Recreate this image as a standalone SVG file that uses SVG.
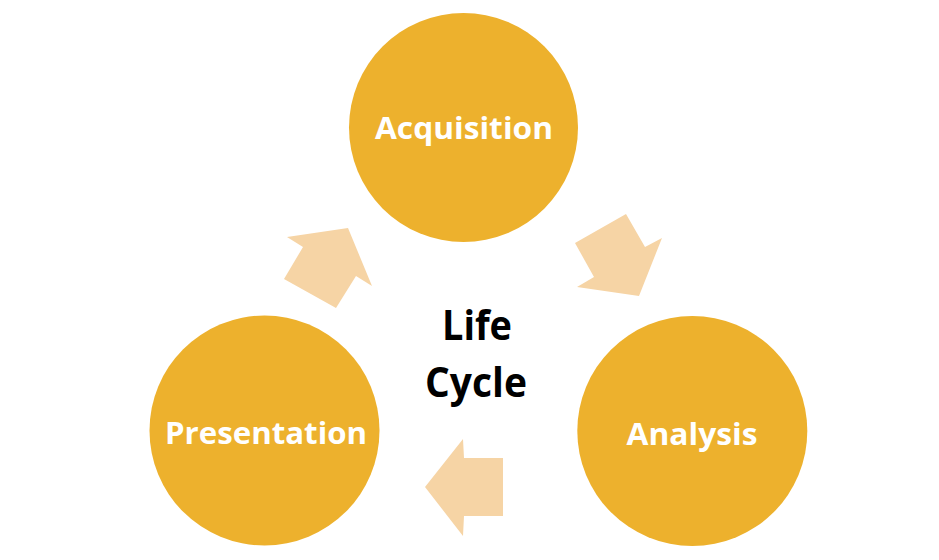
<svg xmlns="http://www.w3.org/2000/svg" width="939" height="560" viewBox="0 0 939 560">
<style>
.node circle{fill:#EDB12D}
.label{font-family:"Open Sans","Noto Sans","DejaVu Sans",sans-serif;font-weight:bold;font-size:31px;fill:#FFFFFF;text-anchor:middle}
.arrow{fill:#F6D4A5}
.center{font-family:"Open Sans","Noto Sans","DejaVu Sans",sans-serif;font-weight:bold;font-size:42px;fill:#000000;text-anchor:middle}
</style>
<rect width="939" height="560" fill="#FFFFFF"/>
<g id="connectors">
<polygon class="arrow" points="575,243 626,214 645,247 662,238 639,296 577,287 594,277"/>
<polygon class="arrow" points="503,458 503,516 464,516 463,536 425,487 463,439 464,458"/>
<polygon class="arrow" points="336,308 284,279 303,247 287,237 348,228 372,286 356,276"/>
</g>
<g id="acquisition" class="node">
<circle cx="463.5" cy="127.5" r="114.5"/>
<text class="label" x="464" y="138.5" textLength="178" lengthAdjust="spacingAndGlyphs">Acquisition</text>
</g>
<g id="analysis" class="node">
<circle cx="692.3" cy="431" r="115"/>
<text class="label" x="692" y="445" textLength="131" lengthAdjust="spacingAndGlyphs">Analysis</text>
</g>
<g id="presentation" class="node">
<circle cx="264.5" cy="430.5" r="115"/>
<text class="label" x="266" y="443.5" textLength="202" lengthAdjust="spacingAndGlyphs">Presentation</text>
</g>
<g id="lifecycle">
<text class="center" x="477" y="340" textLength="70" lengthAdjust="spacingAndGlyphs">Life</text>
<text class="center" x="476" y="397" textLength="102" lengthAdjust="spacingAndGlyphs">Cycle</text>
</g>
</svg>
